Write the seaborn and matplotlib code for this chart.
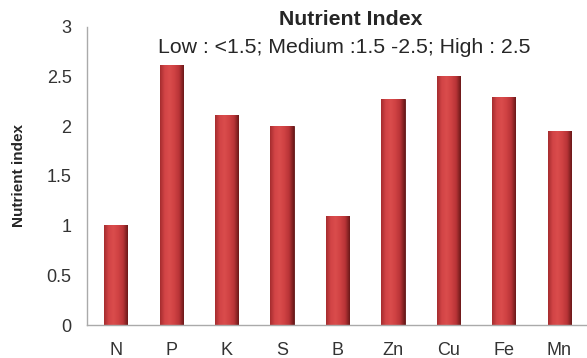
import numpy as np
import pandas as pd
import matplotlib
matplotlib.use('Agg')
import matplotlib.pyplot as plt
from matplotlib.colors import LinearSegmentedColormap
import seaborn as sns

# Dados
nutrientes = ['N', 'P', 'K', 'S', 'B', 'Zn', 'Cu', 'Fe', 'Mn']
indice = [1.01, 2.62, 2.11, 2.0, 1.1, 2.27, 2.51, 2.29, 1.95]

df = pd.DataFrame({'Nutriente': nutrientes, 'Indice': indice})

sns.set_style('white')
plt.rcParams['font.family'] = ['Liberation Sans', 'DejaVu Sans']

fig = plt.figure(figsize=(5.87, 3.58), dpi=100)
ax = fig.add_axes([0.148, 0.092, 0.852, 0.833])

sns.barplot(data=df, x='Nutriente', y='Indice', color='#c8393b', width=0.42,
            edgecolor='#5a1212', linewidth=0.6, saturation=1, ax=ax)

# Efeito de cilindro: gradiente horizontal dentro de cada barra
Cores = LinearSegmentedColormap.from_list('barra', ['#a42c2e', '#d24446', '#da4c4c', '#cf4243', '#b83437', '#6a1818'])
grad = np.linspace(0, 1, 256).reshape(1, -1)
for barra in ax.patches:
    x0, y0 = barra.get_x(), barra.get_y()
    w, h = barra.get_width(), barra.get_height()
    img = ax.imshow(grad, cmap=Cores, aspect='auto', extent=[x0, x0 + w, y0, y0 + h], zorder=barra.get_zorder() + 0.1)
    img.set_clip_path(barra)

ax.set_ylim(0, 3)
ax.set_yticks([0, 0.5, 1, 1.5, 2, 2.5, 3])
ax.set_yticklabels(['0', '0.5', '1', '1.5', '2', '2.5', '3'])
ax.set_xlim(-0.52, 8.5)
ax.set_xlabel('')
ax.set_ylabel('Nutrient index', fontsize=11, fontweight='bold', labelpad=15)
ax.tick_params(axis='y', length=5, color='#999999', labelsize=13, colors='#333333', pad=6)
ax.tick_params(axis='x', length=0, labelsize=13, colors='#333333', pad=12)
ax.yaxis.set_tick_params(color='#999999')

for lado in ['top', 'right']:
    ax.spines[lado].set_visible(False)
for lado in ['left', 'bottom']:
    ax.spines[lado].set_color('#aaaaaa')
    ax.spines[lado].set_linewidth(1)

fig.text(0.598, 0.945, 'Nutrient Index', ha='center', va='center', fontsize=15.3, fontweight='bold')
fig.text(0.586, 0.868, 'Low : <1.5; Medium :1.5 -2.5; High : 2.5', ha='center', va='center', fontsize=15.3)

fig.savefig('out.png', dpi=100)
